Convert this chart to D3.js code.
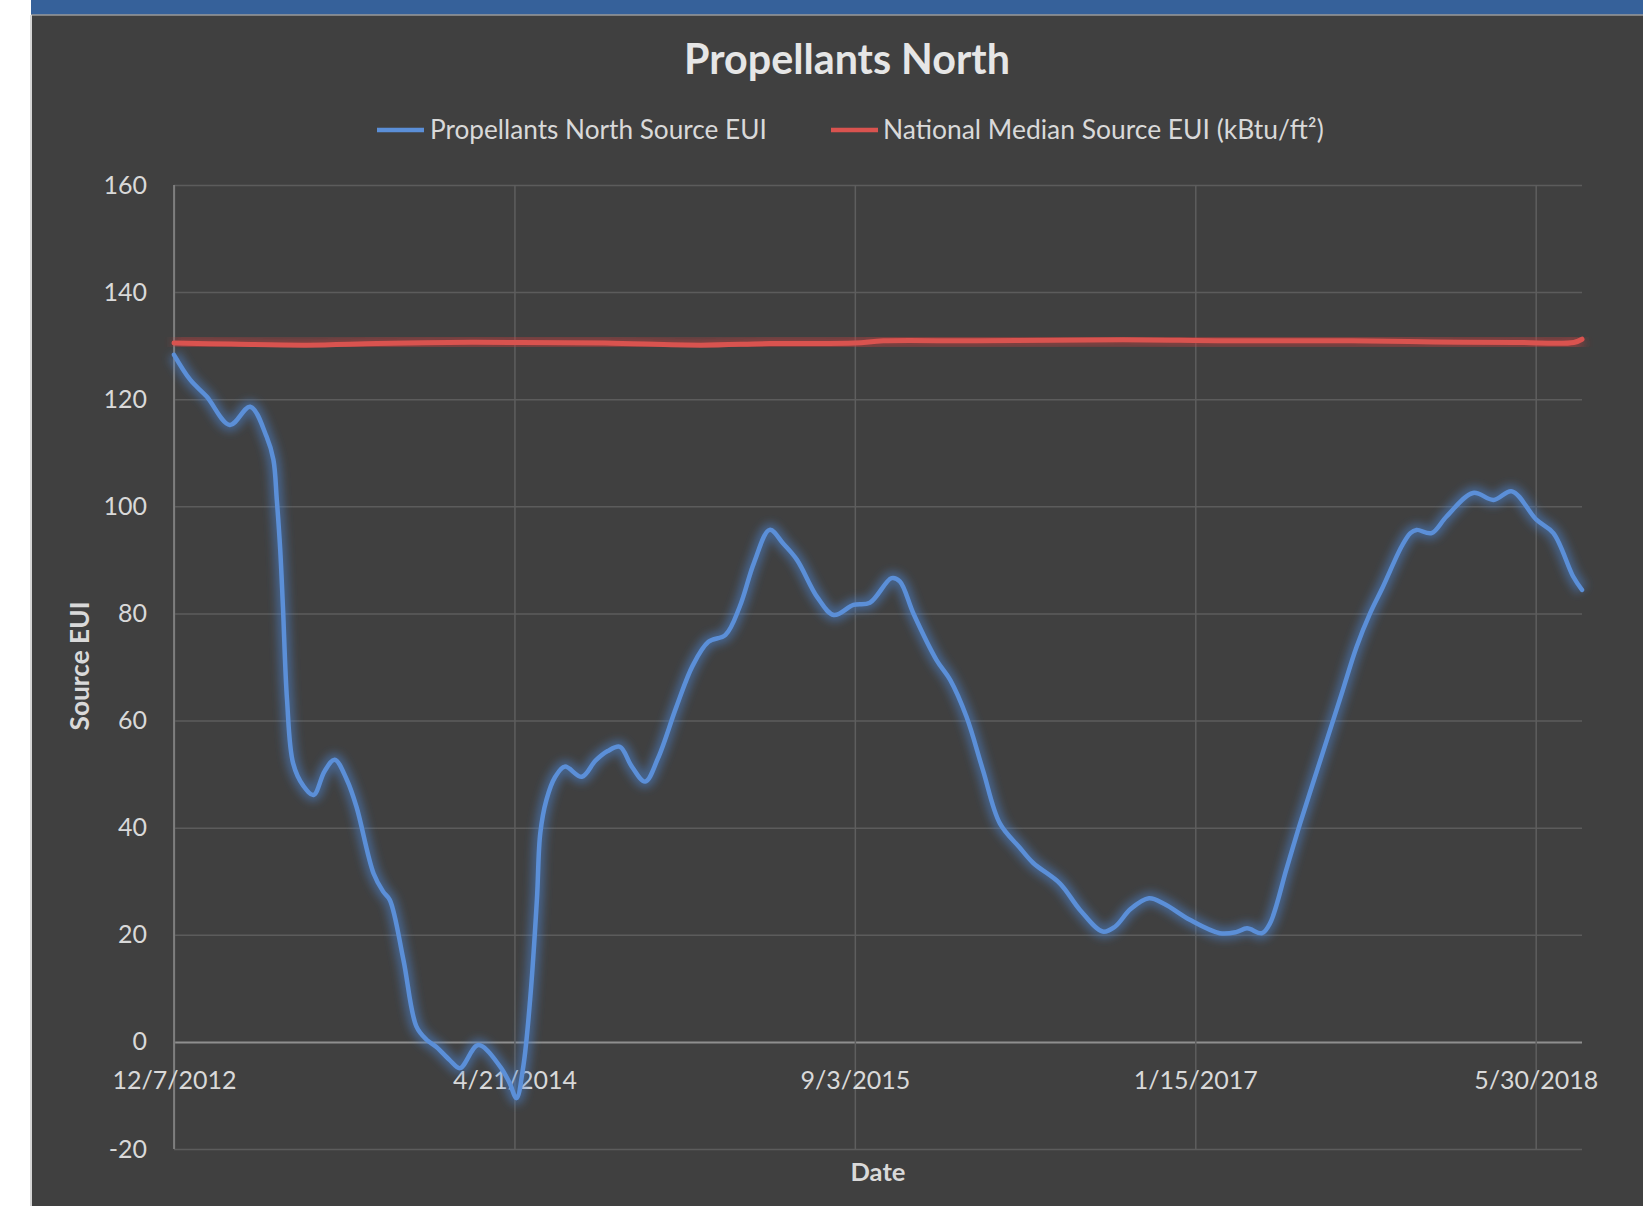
<!DOCTYPE html>
<html>
<head>
<meta charset="utf-8">
<script src="https://cdn.jsdelivr.net/npm/d3@7"></script>
<style>
  html, body { margin: 0; padding: 0; background: #ffffff; }
  svg { display: block; }
  text { font-family: Lato, "Open Sans", sans-serif; }
</style>
</head>
<body>
<svg id="chart" width="1643" height="1206"></svg>
<script>
// ---------------- DATA ----------------
const chartTitle = "Propellants North";
const seriesNames = ["Propellants North Source EUI", "National Median Source EUI (kBtu/ft²)"];
const yTicks = [-20, 0, 20, 40, 60, 80, 100, 120, 140, 160];
const xTickLabels = ["12/7/2012", "4/21/2014", "9/3/2015", "1/15/2017", "5/30/2018"];

const siteDates = [
  "2012-12-07","2012-12-31","2013-01-24","2013-02-27","2013-03-29","2013-04-22","2013-05-02","2013-05-07",
  "2013-05-12","2013-05-16","2013-05-22","2013-05-31","2013-06-15","2013-06-30","2013-07-16","2013-07-31",
  "2013-08-18","2013-09-01","2013-09-26","2013-10-10","2013-10-20","2013-11-09","2013-11-28","2013-12-13",
  "2013-12-27","2014-01-16","2014-01-31","2014-02-27","2014-03-31","2014-04-14","2014-04-24","2014-05-04",
  "2014-05-14","2014-05-24","2014-05-29","2014-06-07","2014-06-20","2014-07-04","2014-07-29","2014-08-18",
  "2014-09-05","2014-09-23","2014-10-10","2014-10-30","2014-11-18","2014-12-15","2015-01-08","2015-01-31",
  "2015-02-25","2015-03-18","2015-04-08","2015-05-01","2015-05-21","2015-06-10","2015-07-10","2015-08-03",
  "2015-09-01","2015-09-25","2015-10-27","2015-11-08","2015-11-28","2016-01-01","2016-01-21","2016-02-14",
  "2016-03-09","2016-04-03","2016-05-02","2016-05-22","2016-06-30","2016-07-30","2016-09-01","2016-09-19",
  "2016-10-12","2016-11-08","2016-11-30","2017-01-07","2017-02-20","2017-03-16","2017-04-01","2017-04-23",
  "2017-05-05","2017-05-29","2017-06-18","2017-07-20","2017-08-17","2017-09-09","2017-09-29","2017-10-17",
  "2017-11-14","2017-11-27","2017-12-06","2017-12-28","2018-01-19","2018-02-27","2018-03-29","2018-04-25",
  "2018-05-31","2018-06-25","2018-07-24","2018-08-06"
];
const siteEUI = [
  128.3,123.6,120.5,115.2,118.6,113.0,108.7,101.2,
  91.9,81.2,63.9,52.0,47.8,46.1,50.5,52.7,
  48.9,43.9,31.5,28.1,26.5,15.3,2.9,0.4,
  -0.9,-3.4,-4.9,-0.6,-4.6,-7.7,-10.5,-4.6,
  7.8,26.5,39.0,45.2,49.5,51.4,49.5,52.5,
  54.3,55.1,51.5,48.6,53.0,62.6,70.3,74.7,
  76.0,81.3,89.5,95.6,93.0,90.0,83.0,79.7,
  81.6,82.0,86.6,86.0,80.0,71.3,67.6,60.7,
  50.8,40.8,36.3,33.4,29.6,24.6,20.6,21.5,
  24.8,26.8,25.8,22.8,20.3,20.5,21.2,20.3,
  22.2,32.3,40.8,53.5,64.6,73.8,80.1,84.8,
  92.5,95.0,95.6,95.0,98.1,102.5,101.2,102.8,
  97.5,95.0,86.9,84.4
];

const medianDates = [
  "2012-12-07","2013-03-01","2013-06-20","2013-10-01","2014-01-15","2014-05-01","2014-09-01","2015-01-20",
  "2015-05-01","2015-09-03","2015-10-15","2016-03-01","2016-10-01","2017-03-01","2017-09-01","2018-01-01",
  "2018-05-01","2018-07-25","2018-08-06"
];
const medianEUI = [
  130.5,130.3,130.1,130.4,130.6,130.6,130.5,130.1,
  130.4,130.5,130.9,130.9,131.1,130.9,130.9,130.7,
  130.6,130.6,131.2
];

// ---------------- CHART ----------------
const svg = d3.select("#chart");
const W = 1643, H = 1206;
const plot = { left: 174, right: 1582, top: 185, bottom: 1149 };

const parseISO = d3.timeParse("%Y-%m-%d");
const parseTick = d3.timeParse("%m/%d/%Y");
const fmtTick = d3.timeFormat("%-m/%-d/%Y");

const site = siteDates.map((d, i) => ({ date: parseISO(d), value: siteEUI[i] }));
const median = medianDates.map((d, i) => ({ date: parseISO(d), value: medianEUI[i] }));

// frame
svg.append("rect").attr("x", 0).attr("y", 0).attr("width", W).attr("height", H).attr("fill", "#ffffff");
svg.append("rect").attr("x", 31).attr("y", 0).attr("width", W - 31).attr("height", 15).attr("fill", "#36619a");
svg.append("rect").attr("x", 32).attr("y", 15).attr("width", W - 32).attr("height", H - 15).attr("fill", "#404040");
svg.append("line").attr("x1", 31).attr("x2", W).attr("y1", 15).attr("y2", 15).attr("stroke", "#9a9a9a").attr("stroke-width", 1.5);
svg.append("line").attr("x1", 31).attr("x2", 31).attr("y1", 15).attr("y2", H).attr("stroke", "#d6d6d6").attr("stroke-width", 2);

const x = d3.scaleTime()
  .domain([site[0].date, site[site.length - 1].date])
  .range([plot.left, plot.right]);
const y = d3.scaleLinear().domain([-20, 160]).range([plot.bottom, plot.top]);

const defs = svg.append("defs");
function blurFilter(id, sd) {
  const f = defs.append("filter").attr("id", id)
    .attr("x", "-5%").attr("y", "-30%").attr("width", "110%").attr("height", "160%");
  f.append("feGaussianBlur").attr("in", "SourceGraphic").attr("stdDeviation", sd);
}
blurFilter("blurBlue", 4.5);
blurFilter("blurRed", 5);

// horizontal gridlines
const gy = svg.append("g")
  .attr("transform", `translate(${plot.left},0)`)
  .call(d3.axisLeft(y).tickValues(yTicks).tickSize(-(plot.right - plot.left)).tickFormat(""));
gy.select(".domain").remove();
gy.selectAll(".tick line")
  .attr("stroke", d => d === 0 ? "#8f8f8f" : "#5c5c5c")
  .attr("stroke-width", d => d === 0 ? 2 : 1.5);

// vertical gridlines
const xTickDates = xTickLabels.map(parseTick);
const gx = svg.append("g")
  .attr("transform", `translate(0,${plot.bottom})`)
  .call(d3.axisBottom(x).tickValues(xTickDates).tickSize(-(plot.bottom - plot.top)).tickFormat(""));
gx.select(".domain").remove();
gx.selectAll(".tick line").attr("stroke", "#5e5e5e").attr("stroke-width", 1.5);

// left axis line
svg.append("line").attr("x1", plot.left).attr("x2", plot.left)
  .attr("y1", plot.top).attr("y2", plot.bottom).attr("stroke", "#8a8a8a").attr("stroke-width", 1.5);

// y tick labels
const yLab = svg.append("g")
  .attr("transform", `translate(${plot.left},0)`)
  .call(d3.axisLeft(y).tickValues(yTicks).tickSize(0).tickPadding(27).tickFormat(d => String(d)));
yLab.select(".domain").remove();
yLab.selectAll("text").attr("fill", "#d9d9d9").style("font-size", "25px").style("font-family", "Lato, sans-serif");

// x tick labels (next to the zero line)
const xLab = svg.append("g")
  .attr("transform", `translate(0,${y(0)})`)
  .call(d3.axisBottom(x).tickValues(xTickDates).tickSize(0).tickPadding(29).tickFormat(fmtTick));
xLab.select(".domain").remove();
xLab.selectAll("text").attr("fill", "#d9d9d9").style("font-size", "25px").style("font-family", "Lato, sans-serif");

// lines
const line = d3.line().x(d => x(d.date)).y(d => y(d.value)).curve(d3.curveCatmullRom.alpha(0.5));

svg.append("path").datum(median).attr("d", line)
  .attr("fill", "none").attr("stroke", "#c0413f").attr("stroke-width", 14).attr("stroke-opacity", 0.6)
  .attr("filter", "url(#blurRed)");
svg.append("path").datum(median).attr("d", line)
  .attr("fill", "none").attr("stroke", "#d9534f").attr("stroke-width", 5).attr("stroke-linecap", "round");

svg.append("path").datum(site).attr("d", line)
  .attr("fill", "none").attr("stroke", "#4a86d6").attr("stroke-width", 13).attr("stroke-opacity", 0.5)
  .attr("filter", "url(#blurBlue)");
svg.append("path").datum(site).attr("d", line)
  .attr("fill", "none").attr("stroke", "#5b8fd8").attr("stroke-width", 4.5).attr("stroke-linecap", "round");

// fit helper
function fitWidth(sel, target) {
  const w = sel.node().getComputedTextLength();
  const fs = parseFloat(sel.style("font-size"));
  sel.style("font-size", (fs * target / w) + "px");
}

// title
const title = svg.append("text").attr("x", 847).attr("y", 74).attr("text-anchor", "middle")
  .attr("fill", "#e6e6e6").style("font-weight", "bold").style("font-size", "40px").text(chartTitle);
fitWidth(title, 326);

// legend
const legendItems = [
  { name: seriesNames[0], color: "#5b8fd8", x1: 377, x2: 424, tx: 430, tw: 337 },
  { name: seriesNames[1], color: "#d9534f", x1: 831, x2: 878, tx: 883, tw: 441 }
];
const lg = svg.append("g");
legendItems.forEach(it => {
  lg.append("line").attr("x1", it.x1).attr("x2", it.x2).attr("y1", 130).attr("y2", 130)
    .attr("stroke", it.color).attr("stroke-width", 4.5);
  const t = lg.append("text").attr("x", it.tx).attr("y", 139).attr("fill", "#d9d9d9")
    .style("font-size", "26px").text(it.name);
  fitWidth(t, it.tw);
});

// axis titles
const yt = svg.append("text").attr("transform", "translate(89,666) rotate(-90)").attr("text-anchor", "middle")
  .attr("fill", "#d9d9d9").style("font-weight", "bold").style("font-size", "24px").text("Source EUI");
fitWidth(yt, 129);
const xt = svg.append("text").attr("x", 878).attr("y", 1181).attr("text-anchor", "middle")
  .attr("fill", "#d9d9d9").style("font-weight", "bold").style("font-size", "24px").text("Date");
fitWidth(xt, 55);
</script>
</body>
</html>
